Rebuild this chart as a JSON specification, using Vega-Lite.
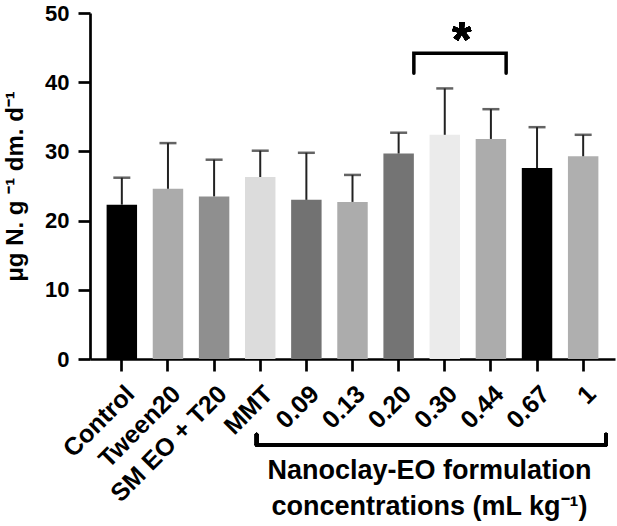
{
  "$schema": "https://vega.github.io/schema/vega-lite/v6.json",
  "width": 525,
  "height": 346,
  "autosize": "none",
  "padding": {"left": 90, "top": 13, "right": 2, "bottom": 167},
  "config": {
    "view": {"stroke": null},
    "font": "Liberation Sans",
    "axis": {"domainColor": "#000", "domainWidth": 2.7, "tickColor": "#000", "tickWidth": 2.7, "tickSize": 12, "labelColor": "#000", "titleColor": "#000", "labelFont": "Liberation Sans", "titleFont": "Liberation Sans", "labelFontWeight": "bold", "titleFontWeight": "bold", "grid": false}
  },
  "data": {
    "values": [
      {"group": "Control", "mean": 22.3, "upper": 26.2},
      {"group": "Tween20", "mean": 24.6, "upper": 31.2},
      {"group": "SM EO + T20", "mean": 23.5, "upper": 28.8},
      {"group": "MMT", "mean": 26.3, "upper": 30.1},
      {"group": "0.09", "mean": 23.0, "upper": 29.8},
      {"group": "0.13", "mean": 22.7, "upper": 26.6},
      {"group": "0.20", "mean": 29.7, "upper": 32.7},
      {"group": "0.30", "mean": 32.4, "upper": 39.1},
      {"group": "0.44", "mean": 31.8, "upper": 36.1},
      {"group": "0.67", "mean": 27.6, "upper": 33.5},
      {"group": "1", "mean": 29.3, "upper": 32.4}
    ]
  },
  "encoding": {
    "x": {
      "field": "group",
      "type": "nominal",
      "sort": null,
      "scale": {"paddingInner": 0.34, "paddingOuter": 0.36},
      "axis": {
        "labelAngle": -45,
        "labelFontSize": 25,
        "labelPadding": 10,
        "title": ["Nanoclay-EO formulation", "concentrations (mL kg⁻¹)"],
        "titleFontSize": 27,
        "titleLineHeight": 36,
        "titleX": 339,
        "titleY": 98,
        "titleAlign": "center",
        "titleBaseline": "top",
        "titleAnchor": null
      }
    }
  },
  "layer": [
    {
      "mark": {"type": "bar"},
      "encoding": {
        "y": {
          "field": "mean",
          "type": "quantitative",
          "scale": {"domain": [0, 50], "nice": false},
          "axis": {
            "values": [0, 10, 20, 30, 40, 50],
            "labelFontSize": 22,
            "labelPadding": 9,
            "title": "μg N. g ⁻¹ dm. d⁻¹",
            "titleFontSize": 24,
            "titlePadding": 17
          }
        },
        "color": {
          "field": "group",
          "type": "nominal",
          "legend": null,
          "scale": {
            "domain": ["Control", "Tween20", "SM EO + T20", "MMT", "0.09", "0.13", "0.20", "0.30", "0.44", "0.67", "1"],
            "range": ["#000000", "#ababab", "#8f8f8f", "#dcdcdc", "#727272", "#acacac", "#747474", "#ebebeb", "#acacac", "#000000", "#afafaf"]
          }
        }
      }
    },
    {
      "mark": {"type": "rule", "color": "#222", "strokeWidth": 2},
      "encoding": {
        "y": {"field": "mean", "type": "quantitative"},
        "y2": {"field": "upper"}
      }
    },
    {
      "mark": {"type": "tick", "color": "#222", "size": 17, "thickness": 2.5},
      "encoding": {
        "y": {"field": "upper", "type": "quantitative"}
      }
    },
    {
      "data": {
        "values": [
          {"group": "0.20", "level": 41.3, "step": 1},
          {"group": "0.20", "level": 44.2, "step": 2},
          {"group": "0.44", "level": 44.2, "step": 3},
          {"group": "0.44", "level": 41.3, "step": 4}
        ]
      },
      "mark": {"type": "line", "color": "#000", "strokeWidth": 3.5, "strokeCap": "round", "strokeJoin": "miter"},
      "encoding": {
        "x": {"field": "group", "type": "nominal", "sort": null, "bandPosition": 1},
        "y": {"field": "level", "type": "quantitative"},
        "order": {"field": "step"}
      }
    },
    {
      "mark": {"type": "text", "text": "*", "fontSize": 50, "fontWeight": "bold", "baseline": "alphabetic", "align": "center", "color": "#000"},
      "encoding": {
        "x": {"datum": "0.30", "bandPosition": 1.06},
        "y": {"datum": 43.6}
      }
    },
    {
      "mark": {"type": "rule", "color": "#000", "strokeWidth": 3.5, "strokeCap": "round"},
      "encoding": {
        "x": {"datum": "MMT", "bandPosition": 0.38},
        "x2": {"datum": "1", "bandPosition": 1.25},
        "y": {"datum": -12.4}
      }
    },
    {
      "mark": {"type": "rule", "color": "#000", "strokeWidth": 3.5, "strokeCap": "round"},
      "encoding": {
        "x": {"datum": "MMT", "bandPosition": 0.38},
        "y": {"datum": -10.9},
        "y2": {"datum": -12.4}
      }
    },
    {
      "mark": {"type": "rule", "color": "#000", "strokeWidth": 3.5, "strokeCap": "round"},
      "encoding": {
        "x": {"datum": "1", "bandPosition": 1.25},
        "y": {"datum": -10.9},
        "y2": {"datum": -12.4}
      }
    }
  ]
}
